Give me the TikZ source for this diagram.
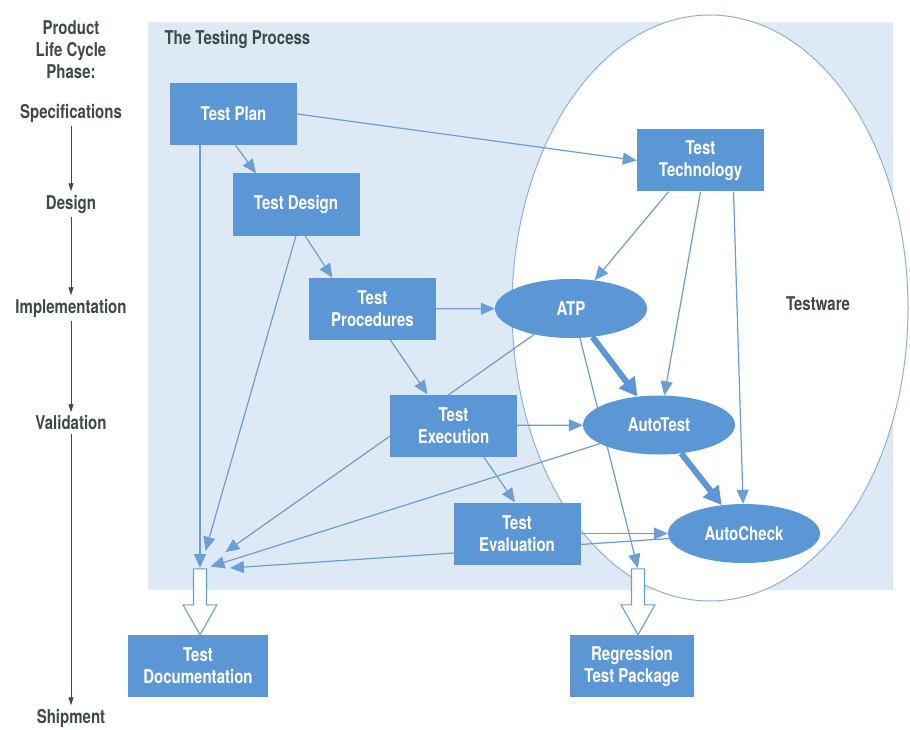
\documentclass[tikz,border=0pt]{standalone}
\usepackage{fontspec}
\setsansfont{TeX Gyre Heros}[FakeStretch=0.79]
\usetikzlibrary{arrows.meta,backgrounds,shapes.geometric}
\definecolor{boxblue}{HTML}{5B97D4}
\definecolor{panel}{HTML}{DDEAF5}
\definecolor{wire}{HTML}{6A9ED4}
\definecolor{rim}{HTML}{8DB2D6}
\definecolor{ink}{HTML}{3E4A46}

\begin{document}
\begin{tikzpicture}[
  x=1pt, y=-1pt,
  font=\sffamily\bfseries\fontsize{19}{22}\selectfont,
  box/.style={fill=boxblue, text=white, align=center, inner sep=2pt, minimum width=127pt, minimum height=62pt},
  tool/.style={ellipse, fill=boxblue, text=white, inner sep=0pt, minimum width=152pt, minimum height=59pt},
  phase/.style={text=ink, align=center},
  phasearr/.style={-{Triangle[length=8pt,width=5pt]}, line width=0.8pt, draw=ink},
  arr/.style={-{Triangle[length=14pt,width=12pt]}, line width=1.2pt, draw=wire},
  thickarr/.style={-{Triangle[length=18pt,width=19pt]}, line width=6pt, draw=boxblue},
  hollow/.style={draw=wire, fill=white, line width=1.1pt},
]
\useasboundingbox (0,0) rectangle (910,730);

% life cycle column
\node[phase] (lcphase) at (71,50) {Product\\Life Cycle\\Phase:};
\node[phase] (spec) at (71,113) {Specifications};
\node[phase] (design) at (71,204) {Design};
\node[phase] (impl) at (71,308) {Implementation};
\node[phase] (valid) at (71,423) {Validation};
\node[phase] (ship) at (71,718) {Shipment};
\draw[phasearr] (spec) -- (design);
\draw[phasearr] (design) -- (impl);
\draw[phasearr] (impl) -- (valid);
\draw[phasearr] (valid) -- (ship);

\node[phase, anchor=west] (title) at (161,39) {The Testing Process};
\node[phase] (testware) at (818,304) {Testware};

% process boxes
\node[box] (tplan) at (233.5,114) {Test Plan};
\node[box] (tdesign) at (296,204.5) {Test Design};
\node[box] (tproc) at (372.5,309) {Test\\Procedures};
\node[box] (texec) at (453.5,425.5) {Test\\Execution};
\node[box] (teval) at (517,533.5) {Test\\Evaluation};
\node[box] (ttech) at (700.5,160.5) {Test\\Technology};
\node[box, minimum width=140pt] (tdoc) at (198,666) {Test\\Documentation};
\node[box, minimum width=124pt] (regpkg) at (632,666) {Regression\\Test Package};

% testware tools
\node[tool] (atp) at (571,308.5) {ATP};
\node[tool] (autotest) at (659,425) {AutoTest};
\node[tool] (autocheck) at (744,533.5) {AutoCheck};

\coordinate (docin) at (200,570);
\coordinate (regin) at (638,569);

\begin{scope}[on background layer]
\fill[panel] (148,22) rectangle (893,590);
\draw[rim, fill=white, line width=1pt] (710,308) ellipse [x radius=198, y radius=293];

\draw[arr] ([xshift=2pt]tplan.south) -- ([xshift=-40pt]tdesign.north);
\draw[arr] (tplan.east) -- (ttech.west);
\draw[arr, shorten >=2pt] (tplan.south -| docin) -- (docin);
\draw[arr] ([xshift=9pt]tdesign.south) -- ([xshift=-40pt]tproc.north);
\draw[arr, shorten >=20pt] (tdesign.south) -- (docin);
\draw[arr] (tproc) -- (atp);
\draw[arr] ([xshift=18pt]tproc.south) -- ([xshift=-26pt]texec.north);
\draw[arr] (texec) -- (autotest);
\draw[arr] ([xshift=30pt]texec.south) -- ([xshift=-2pt]teval.north);
\draw[arr] (teval) -- (autocheck);
\draw[arr] ([xshift=-32pt]ttech.south) -- (atp);
\draw[arr] (ttech.south) -- (autotest);
\draw[arr] ([xshift=33pt]ttech.south) -- (autocheck);
\draw[arr, shorten >=31pt] (atp) -- (docin);
\draw[arr, shorten >=11pt] (autotest) -- (docin);
\draw[arr, shorten >=30pt] (autocheck) -- (docin);
\draw[arr, shorten >=1pt] ([xshift=9pt]atp.south) -- (regin);
\draw[thickarr] (atp) -- (autotest);
\draw[thickarr] (autotest) -- (autocheck);

% hollow output arrows
\draw[hollow] (docin |- tdoc.north) -- ++(-17,-30) -- ++(10.5,0) -- ++(0,-36)
  -- ++(13,0) -- ++(0,36) -- ++(10.5,0) -- cycle;
\draw[hollow] (regin |- regpkg.north) -- ++(-17,-30) -- ++(10.5,0) -- ++(0,-36)
  -- ++(13,0) -- ++(0,36) -- ++(10.5,0) -- cycle;
\end{scope}
\end{tikzpicture}
\end{document}
